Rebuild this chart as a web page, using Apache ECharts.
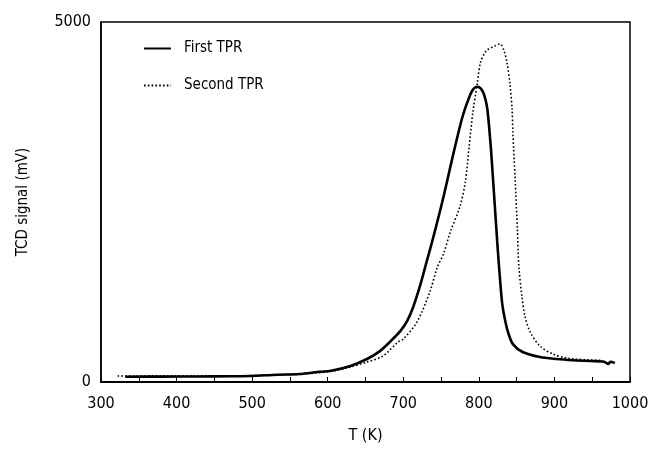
<!DOCTYPE html>
<html>
<head>
<meta charset="utf-8">
<script src="https://cdn.jsdelivr.net/npm/echarts@6/dist/echarts.min.js"></script>
<style>html,body{margin:0;padding:0;background:#fff}#c{width:653px;height:449px}</style>
</head>
<body>
<div id="c"></div>
<script>
const FONT = '"Liberation Sans Narrow","DejaVu Sans Condensed","Open Sans",sans-serif';

const xTicks = [300, 400, 500, 600, 700, 800, 900, 1000];
const yTicks = [0, 5000];

const firstT = [332, 380, 431, 470, 497, 533, 563, 590, 603, 630, 652, 669, 682, 696, 705, 713, 722, 731, 739, 753, 766, 778, 786, 792, 798, 803, 807, 811, 815, 817, 821, 825, 828, 831, 835, 839, 845, 858, 881, 903, 925, 947, 964, 968, 971, 974, 976, 980];
const firstV = [73, 75, 76, 80, 83, 101, 111, 143, 152, 222, 319, 429, 554, 706, 845, 1039, 1330, 1676, 1981, 2562, 3158, 3670, 3920, 4058, 4100, 4072, 3988, 3809, 3366, 3089, 2465, 1842, 1427, 1080, 845, 679, 526, 416, 346, 319, 302, 291, 285, 270, 249, 280, 277, 263];

const secondT = [322, 380, 431, 497, 563, 603, 630, 652, 673, 693, 700, 718, 735, 745, 753, 762, 775, 782, 787, 792, 798, 802, 807, 811, 821, 828, 833, 837, 841, 844, 845, 848, 851, 853, 857, 861, 868, 881, 898, 917, 947, 962];
const secondV = [83, 85, 86, 88, 111, 145, 208, 277, 360, 554, 596, 831, 1247, 1593, 1773, 2078, 2438, 2770, 3255, 3740, 4155, 4432, 4557, 4612, 4668, 4695, 4612, 4446, 4155, 3780, 3463, 2812, 2119, 1593, 1191, 914, 692, 499, 388, 332, 305, 300];

const firstData = firstT.map((t, i) => [t, firstV[i]]);
const secondData = secondT.map((t, i) => [t, secondV[i]]);

const chart = echarts.init(document.getElementById('c'), null, {renderer: 'canvas'});
chart.setOption({
  animation: false,
  backgroundColor: '#fff',
  grid: {left: 101, right: 23, top: 22, bottom: 66, show: true, borderColor: '#000', borderWidth: 1.5, containLabel: false},
  legend: {
    orient: 'vertical', left: 138, top: 36, itemWidth: 27, itemHeight: 14, itemGap: 22,
    data: ['First TPR', 'Second TPR'],
    itemStyle: {opacity: 0},
    textStyle: {fontFamily: FONT, fontSize: 15, color: '#000', padding: [0, 0, 0, 8]}
  },
  xAxis: {
    type: 'value', min: xTicks[0], max: xTicks[xTicks.length - 1], interval: 100,
    name: 'T (K)', nameLocation: 'middle', nameGap: 46,
    nameTextStyle: {fontFamily: FONT, fontSize: 16, color: '#000'},
    axisLine: {show: true, onZero: false, lineStyle: {color: '#000', width: 2}},
    axisTick: {show: true, inside: true, length: 5, lineStyle: {color: '#000', width: 1}},
    minorTick: {show: true, splitNumber: 2, length: 5, lineStyle: {color: '#000', width: 1}},
    axisLabel: {fontFamily: FONT, fontSize: 16, color: '#000', margin: 14, formatter: v => String(v)},
    splitLine: {show: false}
  },
  yAxis: {
    type: 'value', min: yTicks[0], max: yTicks[1], interval: 5000,
    name: 'TCD signal (mV)', nameLocation: 'middle', nameGap: 70,
    nameTextStyle: {fontFamily: FONT, fontSize: 15, color: '#000'},
    axisLine: {show: true, lineStyle: {color: '#000', width: 1.5}},
    axisTick: {show: false},
    axisLabel: {fontFamily: FONT, fontSize: 16, color: '#000', margin: 10, formatter: v => String(v)},
    splitLine: {show: false}
  },
  series: [
    {
      name: 'First TPR', type: 'line', data: firstData, showSymbol: false, symbol: 'none',
      smooth: 0.3,
      lineStyle: {color: '#000', width: 2.6, type: 'solid'}, itemStyle: {color: '#000'}, z: 3
    },
    {
      name: 'Second TPR', type: 'line', data: secondData, showSymbol: false, symbol: 'none',
      smooth: 0.3,
      lineStyle: {color: '#000', width: 1.6, type: [1.6, 2.2]}, itemStyle: {color: '#000'}, z: 2
    }
  ]
});
</script>
</body>
</html>
